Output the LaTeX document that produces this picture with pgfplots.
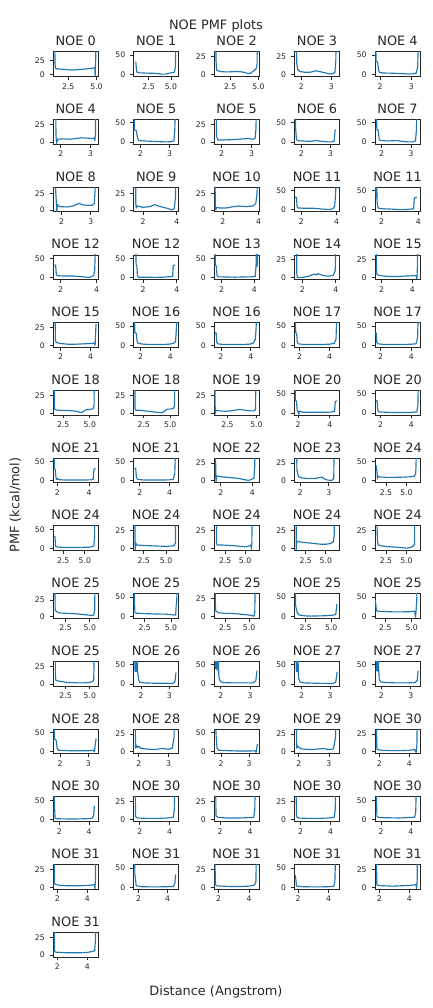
\documentclass[border=0pt]{standalone}
\usepackage{fontspec}
\setmainfont{DejaVu Sans}
\usepackage{pgfplots}
\pgfplotsset{compat=1.18}
\definecolor{mplblue}{HTML}{1F77B4}
\definecolor{axcol}{HTML}{262626}
\pgfplotsset{
 noe/.style={scale only axis, width=44.8pt, height=24.6pt, anchor=north west,
  axis line style={draw=axcol, line width=0.8pt},
  tick align=outside, tick pos=left,
  major tick length=3.5pt,
  every tick/.style={draw=axcol, line width=0.8pt},
  ticklabel style={font=\fontsize{7.7}{8}\selectfont, text=axcol},
  yticklabel style={xshift=-1.5pt},
  every axis title/.style={font=\fontsize{12.9}{14}\selectfont, text=axcol, at={(0.5,1)}, anchor=base, yshift=6pt},
  clip=true},
 xa/.style={xtick={2.5,5}, xticklabels={2.5,5.0}},
 xb/.style={xtick={2,3}, xticklabels={2,3}},
 xc/.style={xtick={2,4}, xticklabels={2,4}},
 ya/.style={ymin=-2.8, ymax=32, ytick={0,25}, yticklabels={0,25}},
 yb/.style={ymin=-5, ymax=59, ytick={0,50}, yticklabels={0,50}},
 pmf/.style={color=mplblue, line width=1.15pt, line join=round},
}
\newcommand{\noe}[7]{%
 \pgfmathsetmacro\px{53.3+80.45*#1}%
 \pgfmathsetmacro\py{1008-51.7-67.74*#2}%
 \begin{axis}[noe, at={(\px pt,\py pt)}, title={NOE #3}, xmin=#4, xmax=#5, #6]
 \addplot[pmf] coordinates {#7};
 \end{axis}}
\begin{document}
\begin{tikzpicture}
\path[use as bounding box] (0,0) rectangle (432pt,1008pt);
\node[font=\fontsize{12.9}{14}\selectfont, text=axcol, anchor=base] at (216pt,978.7pt) {NOE PMF plots};
\node[font=\fontsize{12.9}{14}\selectfont, text=axcol, anchor=base] at (216pt,12.5pt) {Distance (Angstrom)};
\node[font=\fontsize{12.9}{14}\selectfont, text=axcol, anchor=base, rotate=90] at (19.5pt,503pt) {PMF (kcal/mol)};
% row 0
\noe{0}{0}{0}{1.18}{5.14}{xa,ya,ymax=40}{(1.30,90)(1.33,20)(1.37,11)(1.5,10)(2.0,9.5)(2.5,8.5)(2.8,8)(3.2,8.5)(3.8,9.5)(4.3,10.5)(4.7,11.5)(4.85,12.5)(4.88,-2)(4.9,10)(4.93,30)(4.96,90)}
\noe{1}{0}{1}{0.85}{5.85}{xa,yb}{(1.08,33)(1.12,20)(1.2,6)(1.5,4)(2.0,3.5)(2.5,3)(3.0,3)(3.5,2)(4.0,0.5)(4.4,0.5)(4.8,3)(5.2,4.5)(5.4,6)(5.5,20)(5.55,90)}
\noe{2}{0}{2}{1.09}{5.05}{xa,ya}{(1.2,90)(1.25,20)(1.3,6)(1.6,4)(2.0,3.5)(2.5,3.5)(3.0,4)(3.5,3.5)(3.8,2.5)(4.1,1)(4.3,1.5)(4.6,5)(4.8,8)(4.88,15)(4.93,90)}
\noe{3}{0}{3}{1.78}{3.27}{xb,ya}{(1.82,90)(1.85,15)(1.88,7)(1.95,4)(2.1,3)(2.3,3)(2.5,5)(2.6,4)(2.8,2)(2.95,0.5)(3.05,1)(3.12,3)(3.15,20)(3.17,90)}
\noe{4}{0}{4}{1.84}{3.27}{xb,yb}{(1.86,90)(1.87,33)(1.92,32)(1.95,10)(1.98,5)(2.1,3.5)(2.4,3)(2.7,2)(2.9,1)(3.05,1.5)(3.15,3)(3.2,20)(3.22,90)}
% row 1
\noe{0}{1}{4}{1.75}{3.25}{xb,ya}{(1.82,90)(1.84,10)(1.86,-2)(1.9,4)(2.1,4.5)(2.3,4)(2.5,5)(2.7,6)(2.9,5.5)(3.05,5)(3.12,6)(3.14,2)(3.16,10)(3.18,90)}
\noe{1}{1}{5}{1.77}{3.31}{xb,yb}{(1.78,90)(1.79,32)(1.86,30)(1.9,10)(1.95,4)(2.1,3)(2.4,2)(2.7,1)(2.9,0.5)(3.05,1)(3.15,3)(3.18,30)(3.2,90)}
\noe{2}{1}{5}{1.75}{3.25}{xb,ya}{(1.8,90)(1.83,8)(1.87,3)(2.1,3)(2.4,3.5)(2.7,4.5)(2.9,5)(3.05,4)(3.12,5)(3.15,20)(3.17,90)}
\noe{3}{1}{6}{1.77}{3.3}{xb,yb}{(1.79,90)(1.8,40)(1.83,8)(1.87,4)(2.0,3)(2.3,2)(2.5,4)(2.7,2)(2.9,0.5)(3.05,0.5)(3.12,3)(3.15,30)(3.18,32)}
\noe{4}{1}{7}{1.78}{3.3}{xb,yb}{(1.82,90)(1.84,32)(1.88,32)(1.92,8)(1.96,4)(2.2,3)(2.5,4)(2.7,2)(2.9,0.5)(3.05,0.5)(3.15,3)(3.18,30)(3.2,90)}
% row 2
\noe{0}{2}{8}{1.72}{3.25}{xb,ya,ymax=34.6}{(1.78,90)(1.8,30)(1.82,15)(1.84,-3)(1.86,8)(1.95,5)(2.2,4.5)(2.4,6)(2.6,10)(2.7,8)(2.9,7)(3.05,7)(3.12,10)(3.16,40)(3.18,90)}
\noe{1}{2}{9}{1.45}{4.1}{xc,ya,ymax=34.6}{(1.55,90)(1.57,10)(1.6,3)(1.65,6)(2.0,4)(2.4,5)(2.7,8)(2.9,6)(3.2,4)(3.5,2)(3.7,0)(3.85,2)(3.92,20)(3.95,90)}
\noe{2}{2}{10}{1.51}{4.03}{xc,ya,ymax=34.6}{(1.55,90)(1.57,5)(1.6,0)(1.65,4)(1.8,3)(2.2,3)(2.6,5)(2.9,6)(3.3,5)(3.7,6)(3.85,10)(3.92,25)(3.95,90)}
\noe{3}{2}{11}{1.62}{4.17}{xc,yb}{(1.65,33)(1.72,32)(1.76,8)(1.8,5)(2.2,4)(2.7,4)(3.2,2)(3.6,1)(3.8,3)(3.9,10)(3.95,40)(3.98,90)}
\noe{4}{2}{11}{1.64}{4.09}{xc,yb}{(1.67,90)(1.7,32)(1.72,90)(1.75,20)(1.8,5)(2.0,3)(2.5,2)(3.0,0.5)(3.4,1)(3.75,3)(3.78,30)(3.85,32)(3.92,33)}
% row 3
\noe{0}{3}{12}{1.59}{4.09}{xc,yb}{(1.65,33)(1.72,32)(1.76,8)(1.8,5)(2.2,4)(2.7,4)(3.2,2)(3.6,0.5)(3.85,5)(3.9,20)(3.95,90)}
\noe{1}{3}{12}{1.45}{4.1}{xc,yb}{(1.57,90)(1.59,32)(1.63,32)(1.67,5)(1.72,1)(2.2,1)(2.7,0.5)(3.2,1)(3.6,2.5)(3.75,3)(3.78,30)(3.85,32)(3.9,33)}
\noe{2}{3}{13}{1.55}{4.28}{xc,yb}{(1.6,90)(1.62,33)(1.68,30)(1.72,5)(1.8,2)(2.3,1.5)(2.8,1)(3.3,1.5)(3.8,2)(4.05,3)(4.1,30)(4.12,90)(4.14,30)(4.16,90)(4.18,30)(4.2,90)}
\noe{3}{3}{14}{1.54}{4.22}{xc,ya}{(1.65,90)(1.67,5)(1.7,0)(1.9,0)(2.1,0.5)(2.4,2)(2.6,4)(2.75,5)(2.85,3.5)(2.95,5.5)(3.1,4)(3.3,2.5)(3.6,2)(3.85,3)(3.97,10)(4.02,90)}
\noe{4}{3}{15}{1.57}{4.5}{xc,ya}{(1.63,90)(1.66,8)(1.7,4)(2.0,2.5)(2.5,1.5)(3.0,1.5)(3.5,2)(4.0,2.5)(4.25,3)(4.3,-2)(4.33,10)(4.37,90)}
% row 4
\noe{0}{4}{15}{1.51}{4.5}{xc,ya}{(1.62,90)(1.65,8)(1.7,4)(2.0,2.5)(2.5,1.5)(3.0,1.5)(3.5,2)(4.0,2.5)(4.25,3)(4.3,0)(4.33,15)(4.36,30)}
\noe{1}{4}{16}{1.55}{4.55}{xc,yb}{(1.6,90)(1.62,33)(1.72,31)(1.78,10)(1.85,5)(2.2,3)(2.8,2)(3.4,2)(3.9,3)(4.2,5)(4.35,10)(4.4,40)(4.43,90)}
\noe{2}{4}{16}{1.55}{4.55}{xc,yb}{(1.6,33)(1.68,32)(1.72,8)(1.78,4)(2.2,2)(2.8,2)(3.4,2)(3.9,3)(4.15,5)(4.3,15)(4.35,40)(4.4,90)}
\noe{3}{4}{17}{1.67}{4.65}{xc,yb}{(1.72,90)(1.74,33)(1.8,31)(1.85,8)(1.9,4)(2.3,2)(2.9,2)(3.5,2)(4.0,3)(4.3,5)(4.42,15)(4.48,90)}
\noe{4}{4}{17}{1.65}{4.55}{xc,yb}{(1.67,33)(1.72,32)(1.76,8)(1.82,4)(2.3,2)(2.9,2)(3.5,2)(4.0,3)(4.3,4)(4.4,20)(4.45,90)}
% row 5
\noe{0}{5}{18}{1.57}{5.78}{xa,ya}{(1.65,90)(1.67,8)(1.72,5)(2.0,4)(2.5,3.5)(3.0,3.5)(3.5,3)(3.9,2)(4.2,0.5)(4.5,3)(4.7,5)(5.0,5)(5.3,6)(5.4,10)(5.45,90)}
\noe{1}{5}{18}{1.56}{5.78}{xa,ya}{(1.65,90)(1.68,6)(1.75,4)(2.1,4)(2.6,3)(3.2,2)(3.7,1)(4.2,0.5)(4.5,3)(4.7,5.5)(5.0,5.5)(5.3,6.5)(5.4,10)(5.45,90)}
\noe{2}{5}{19}{1.35}{5.22}{xa,ya}{(1.4,90)(1.43,10)(1.46,-1)(1.5,4)(1.8,3)(2.3,2.5)(2.8,3)(3.3,4.5)(3.6,5)(4.0,4)(4.5,3)(4.8,3)(4.92,5)(4.97,90)}
\noe{3}{5}{20}{1.79}{4.61}{xc,yb}{(1.82,90)(1.84,33)(1.9,31)(1.95,8)(2.0,5)(2.05,-3)(2.1,5)(2.3,2)(3.0,2)(3.6,2)(4.1,2.5)(4.3,5)(4.35,30)(4.45,32)}
\noe{4}{5}{20}{1.65}{4.55}{xc,yb}{(1.68,33)(1.78,32)(1.82,8)(1.9,3)(2.4,2)(3.0,1.5)(3.6,1.5)(4.1,2)(4.35,3)(4.42,20)(4.45,90)}
% row 6
\noe{0}{6}{21}{1.75}{4.56}{xc,yb}{(1.8,90)(1.82,32)(1.87,30)(1.92,8)(1.97,3)(2.02,6)(2.1,3)(2.5,2)(3.0,2)(3.6,2)(4.1,2.5)(4.25,4)(4.3,30)(4.4,32)}
\noe{1}{6}{21}{1.6}{4.6}{xc,yb}{(1.65,33)(1.73,32)(1.78,8)(1.85,4)(2.3,2)(2.9,2)(3.5,2)(4.0,2.5)(4.25,4)(4.35,20)(4.4,90)}
\noe{2}{6}{22}{1.58}{4.42}{xc,ya}{(1.65,90)(1.68,5)(1.7,-1)(1.73,7)(1.9,6)(2.3,5)(2.8,4)(3.2,3)(3.5,1.5)(3.75,0.5)(3.95,2)(4.1,4)(4.15,20)(4.18,90)}
\noe{3}{6}{23}{1.8}{3.37}{xb,ya}{(1.85,90)(1.88,15)(1.93,6)(2.05,4)(2.3,3)(2.55,3.5)(2.75,5)(2.85,2.5)(2.95,1)(3.1,0.5)(3.17,3)(3.2,90)}
\noe{4}{6}{24}{1.16}{6.66}{xa,yb}{(1.3,40)(1.4,20)(1.45,5)(1.5,12)(1.7,10)(2.5,9)(3.5,9)(4.5,9.5)(5.5,10.5)(6.0,12)(6.15,20)(6.25,90)}
% row 7
\noe{0}{7}{24}{1.35}{6.53}{xa,yb}{(1.5,33)(1.55,30)(1.62,5)(1.8,4)(2.5,3)(3.5,3)(4.5,3)(5.5,3.5)(5.9,5)(6.05,8)(6.12,30)(6.15,90)}
\noe{1}{7}{24}{1.38}{6.4}{xa,ya}{(1.5,90)(1.52,8)(1.55,-2)(1.6,8)(1.7,5)(2.2,4.5)(3.0,4)(4.0,3.5)(5.0,3)(5.6,3.5)(5.9,4)(6.05,8)(6.1,90)}
\noe{2}{7}{24}{1.13}{6.75}{xa,ya}{(1.38,90)(1.42,8)(1.5,5)(2.0,5)(2.8,4.5)(3.6,4)(4.4,3)(5.0,2.5)(5.5,3.5)(5.75,5)(5.8,-1)(5.85,8)(5.95,90)}
\noe{3}{7}{24}{1.13}{6.7}{xa,ya}{(1.3,90)(1.33,-3)(1.37,8)(1.5,10)(2.0,9)(2.8,8)(3.6,7)(4.4,6)(5.0,6)(5.6,7)(5.95,10)(6.05,20)(6.1,90)}
\noe{4}{7}{24}{1.16}{6.66}{xa,ya}{(1.4,32)(1.45,10)(1.55,5)(2.0,3.5)(2.8,2.5)(3.5,2)(4.2,1.5)(5.0,0.5)(5.5,1.5)(5.8,3)(6.0,6)(6.05,90)}
% row 8
\noe{0}{8}{25}{1.23}{5.85}{xa,ya,ymax=34.6}{(1.38,90)(1.42,12)(1.5,8)(1.7,6)(2.0,5)(2.8,4.5)(3.5,4)(4.2,3)(4.8,2)(5.2,1.5)(5.4,2)(5.5,10)(5.55,90)}
\noe{1}{8}{25}{1.46}{5.72}{xa,yb}{(1.5,90)(1.53,40)(1.57,10)(1.7,8)(2.5,7)(3.5,6)(4.5,5.5)(5.2,4)(5.45,3)(5.5,30)(5.55,38)(5.58,90)}
\noe{2}{8}{25}{1.35}{6.04}{xa,ya}{(1.45,90)(1.48,10)(1.55,7)(1.8,5)(2.5,4)(3.2,4)(4.0,3)(4.8,2)(5.3,1)(5.5,0)(5.6,5)(5.68,90)}
\noe{3}{8}{25}{1.43}{5.8}{xa,yb}{(1.5,90)(1.52,30)(1.58,20)(1.7,8)(1.9,3)(2.5,1)(3.0,0.5)(3.8,1)(4.5,1.5)(5.2,3)(5.45,5)(5.5,20)(5.55,32)}
\noe{4}{8}{25}{1.53}{5.78}{xa,yb}{(1.55,42)(1.6,30)(1.65,15)(1.8,13)(2.5,12.5)(3.2,11.5)(4.0,11.5)(4.8,12)(5.3,13)(5.35,-2)(5.4,8)(5.48,40)(5.52,90)}
% row 9
\noe{0}{9}{25}{1.23}{5.85}{xa,ya}{(1.42,90)(1.45,10)(1.5,5)(1.8,4)(2.3,3)(2.8,2)(3.3,2)(3.8,1.5)(4.3,1.5)(4.8,2)(5.2,3)(5.4,5)(5.5,90)}
\noe{1}{9}{26}{1.74}{3.33}{xb,yb}{(1.78,32)(1.79,90)(1.8,33)(1.82,90)(1.84,32)(1.86,90)(1.88,30)(1.92,10)(1.95,5)(2.1,3)(2.5,2)(2.9,2)(3.1,1)(3.2,5)(3.24,30)}
\noe{2}{9}{26}{1.77}{3.31}{xb,yb}{(1.8,90)(1.82,40)(1.84,90)(1.87,35)(1.9,90)(1.93,20)(1.97,8)(2.05,4)(2.4,3)(2.8,3)(3.1,3)(3.2,8)(3.24,35)}
\noe{3}{9}{27}{1.76}{3.33}{xb,yb}{(1.8,90)(1.82,33)(1.84,90)(1.86,32)(1.88,60)(1.9,15)(1.95,5)(2.1,3)(2.5,2)(2.9,1.5)(3.1,1)(3.2,5)(3.25,32)}
\noe{4}{9}{27}{1.79}{3.31}{xb,yb}{(1.82,90)(1.84,35)(1.86,90)(1.88,33)(1.9,60)(1.93,12)(1.97,6)(2.1,4)(2.5,3)(2.9,3)(3.15,4)(3.22,10)(3.25,35)}
% row 10
\noe{0}{10}{28}{1.76}{3.35}{xb,yb}{(1.78,90)(1.8,33)(1.86,31)(1.9,8)(1.95,4)(2.2,3)(2.6,2.5)(3.0,2.5)(3.18,4)(3.22,0)(3.25,20)(3.28,34)}
\noe{1}{10}{28}{1.83}{3.33}{xb,ya}{(1.87,90)(1.89,5)(1.92,9)(1.95,6)(2.0,8)(2.05,5)(2.2,4)(2.5,3)(2.8,4.5)(3.0,3.5)(3.12,5)(3.18,20)(3.2,90)}
\noe{2}{10}{29}{1.76}{3.35}{xb,yb}{(1.8,90)(1.83,40)(1.86,10)(1.92,4)(2.2,3)(2.6,2)(3.0,2)(3.2,2.5)(3.25,-1)(3.28,15)(3.3,20)}
\noe{3}{10}{29}{1.86}{3.35}{xb,ya}{(1.9,90)(1.93,5)(1.96,8)(2.0,6)(2.1,4)(2.4,3)(2.7,4)(2.85,4.5)(3.0,3)(3.15,4)(3.22,20)(3.25,90)}
\noe{4}{10}{30}{1.72}{4.7}{xc,ya}{(1.8,90)(1.83,5)(1.87,3)(2.2,2)(2.8,1.5)(3.4,1.5)(4.0,2)(4.35,3)(4.45,-1)(4.5,10)(4.55,90)}
% row 11
\noe{0}{11}{30}{1.6}{4.6}{xc,yb}{(1.65,90)(1.68,35)(1.72,4)(1.85,2)(2.5,1.5)(3.2,1.5)(3.8,2)(4.2,3)(4.3,10)(4.35,35)}
\noe{1}{11}{30}{1.6}{4.6}{xc,ya}{(1.68,90)(1.72,4)(1.85,2)(2.5,1.5)(3.2,1.5)(3.8,2)(4.25,3)(4.32,15)(4.36,90)}
\noe{2}{11}{30}{1.6}{4.6}{xc,ya}{(1.68,90)(1.72,5)(1.85,3)(2.5,2)(3.2,2)(3.8,2.5)(4.25,3)(4.32,15)(4.36,90)}
\noe{3}{11}{30}{1.6}{4.6}{xc,ya}{(1.68,90)(1.72,4)(1.85,2)(2.5,1.5)(3.2,1.5)(3.8,2)(4.25,3)(4.32,15)(4.36,90)}
\noe{4}{11}{30}{1.6}{4.6}{xc,yb}{(1.68,90)(1.72,8)(1.85,5)(2.5,4.5)(3.2,4)(3.8,5)(4.25,6)(4.32,20)(4.36,90)}
% row 12
\noe{0}{12}{31}{1.73}{4.73}{xc,ya}{(1.78,90)(1.81,6)(1.86,4)(2.2,2.5)(2.8,2)(3.4,2)(4.0,2.5)(4.3,3)(4.48,4)(4.52,-2)(4.55,10)(4.58,90)}
\noe{1}{12}{31}{1.66}{4.76}{xc,yb}{(1.72,90)(1.74,33)(1.78,20)(1.83,4)(2.2,1.5)(2.8,1)(3.4,1)(4.0,1.5)(4.4,2)(4.5,10)(4.55,30)(4.58,33)}
\noe{2}{12}{31}{1.71}{4.65}{xc,ya}{(1.75,90)(1.78,5)(1.85,2)(2.2,1.5)(2.8,1)(3.4,1)(4.0,1.5)(4.35,3)(4.45,8)(4.5,90)}
\noe{3}{12}{31}{1.78}{4.72}{xc,yb}{(1.82,32)(1.86,20)(1.9,3)(2.3,1.5)(2.9,1)(3.5,1)(4.0,1.5)(4.35,2.5)(4.42,15)(4.47,90)}
\noe{4}{12}{31}{1.72}{4.7}{xc,ya}{(1.8,90)(1.83,5)(1.88,2.5)(2.3,2)(2.9,1.5)(3.5,2)(4.0,2.5)(4.3,3)(4.45,4)(4.48,-2)(4.52,10)(4.55,90)}
% row 13
\noe{0}{13}{31}{1.73}{4.73}{xc,ya}{(1.78,90)(1.81,7)(1.86,4)(2.2,3.5)(2.8,3)(3.4,3)(4.0,3.5)(4.35,5)(4.5,6)(4.55,20)(4.6,90)}
\end{tikzpicture}
\end{document}
